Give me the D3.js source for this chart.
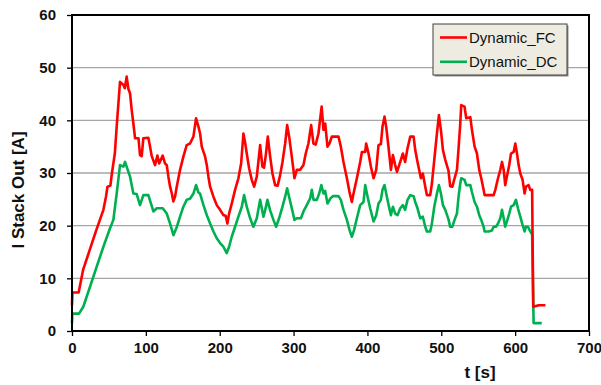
<!DOCTYPE html>
<html>
<head>
<meta charset="utf-8">
<script src="https://cdn.jsdelivr.net/npm/d3@7"></script>
<style>
html,body{margin:0;padding:0;background:#fff;}
svg{display:block;}
</style>
</head>
<body>
<svg id="chart" width="601" height="385"></svg>
<script>
// ---- data ----
const seriesNames = ["Dynamic_FC", "Dynamic_DC"];
const xTicks = [0, 100, 200, 300, 400, 500, 600, 700];
const yTicks = [0, 10, 20, 30, 40, 50, 60];

const tFC = [0,0.5,9,15,24,33,42.5,46,48,52,54,58,60.5,65,69.6,71.5,74,76.3,78.6,80.8,83.1,85.4,90,92.1,94.4,96.6,103.4,105.7,108,112.4,115.6,118,122.8,126,128.3,130.5,132.8,135,137.3,139.5,141.8,146.3,150.8,155.3,159.8,164.4,168,171.2,173.4,175.7,180.2,182.5,184.7,187,191.5,196,200.5,205,208,210.4,212.7,216.3,220.8,225.3,229,232.1,234.4,236.6,239.8,243.4,246.6,250.2,254.7,257.8,260,262.4,265.1,268.3,271.4,275,278.5,281.8,285,288.6,291.3,294,297.6,301.2,304.4,308.9,313.4,316.5,320.1,323.8,326.9,330,333.7,338,340.5,342.8,345.9,348.6,351.8,360.8,364,367.6,372.2,375.7,378.9,381.2,385.7,390.2,392.5,397,398.3,401.5,404.7,408.3,411.9,415,418.2,420.4,423.1,425.4,428.7,431.8,434.5,437.6,440,444.4,448,451,454.3,458,462.5,464.7,467.8,470,472.4,475,478.3,480.5,485,487.3,490.5,494.1,496.8,499.5,502.2,505.4,509.8,512,515,518,521.2,523.4,525.7,527,531.5,533.8,539.3,541.5,545.1,548.3,551.4,554.1,557.3,558.6,570.9,573.1,576.8,579.9,582.2,584.5,586.6,588.9,592,594.4,598,600.2,602.5,604.7,607,610.1,612.8,614.6,618.2,620.5,623,624.5,632,641];
const vFC = [4.9,7.3,7.3,11.6,15.4,19.2,23,25.5,27.4,27.6,29.9,33.7,38.8,47.3,46.7,46.1,48.3,46,45.1,42,39.4,36.6,36.6,33.4,33.2,36.6,36.7,35,33.2,31.5,33.3,31.8,33.3,31.8,31.5,29.3,27.4,26.2,24.6,25.5,27.4,30.6,33.1,35.3,35.6,36.9,40.4,38.8,37.5,35,33.1,31.5,29.3,27.4,25.5,23.9,23,22,21.9,20.4,22.3,24.2,26.8,29,31.8,37.5,35.8,33.7,30.9,28.7,27.4,29.3,35.3,31.2,31,33.4,36.9,33.1,29.9,27.7,27.6,29.6,32.1,35.6,39.1,36.9,33.1,29,30.6,30.6,31.5,33.7,35.6,39.1,35.6,35.4,37.5,42.6,38.2,39.4,35,35.6,36.9,36.9,35,32.1,29,26.4,24.5,26.1,29,32.1,34,34,35.6,33.7,31.2,29,30.6,35.3,35.5,38.8,40.7,38.8,34.7,30.6,33.4,31.5,30.2,32.1,33.7,32.1,34.7,36.9,36.9,34.4,32.1,30.6,29,29.9,27.4,25.8,25.8,28,32.5,37.5,41,38.2,34.4,32.5,30.4,27.5,27.4,29,30.6,34.7,39.4,42.9,42.6,40.4,40.6,38.2,35,33.7,30.6,29,26.8,25.8,25.8,26.8,29,30.6,32.1,30.6,27.7,29.4,31.5,33.7,34,35.6,33.7,31.5,29.9,28.7,26.1,27.4,27.7,26.8,26.8,4.6,4.9,4.9];

const tDC = [0,0.5,9.5,15.3,24.4,33.4,42.5,51.5,56,60.5,65,69.6,71.8,74,78.6,83.1,87.6,92.1,96.6,103.4,110.2,114.7,122.8,128.3,132.8,137.3,141.8,146.3,150.8,155.3,159.8,164.4,168,171.2,173.4,178,182.5,187,191.5,196,200.5,205,209.5,212.7,216.3,220.8,225.3,229.9,233,236.6,241.2,245.6,250.2,254.7,259.2,261.5,264.6,268.3,272.7,276.4,280.4,285,288.6,291.3,294.4,297.6,301.2,304.4,310,313.4,317.9,322.5,324.7,327,331.5,334.7,337.6,340.5,342.8,345.9,349.5,353.2,360.8,364,367.6,372.2,375.7,378.9,382,385.7,390.2,394.7,397,400.2,403.7,408.3,411.9,415,418.2,420.4,423.1,425.4,428.7,431.8,434.5,437.6,440.8,444.4,448,451,454.3,458,462.5,464.7,467.8,471.5,475,478.3,480.5,485,487.3,490.5,494.1,496.8,499.5,502.2,505.4,509.8,512,515,518,521.2,523.4,525.7,527,531.5,533.8,539.3,541.5,545.1,548.3,551.4,554.1,557.3,558.6,564,568.6,570.9,574,576.8,579.9,582.2,584.5,586.6,588.9,592,594.4,598,601.1,603.8,607,610.1,612.8,614.6,617.3,620.5,623,625,636];
const vDC = [1.5,3.3,3.3,4.6,8.4,12.2,16,19.5,21.1,26.1,31.5,31.2,32.1,31.2,29.3,26.1,26,23.9,25.8,25.8,22.7,23.3,23.3,22.3,20.4,18.2,19.7,21.7,23.6,24.9,25.1,26.1,27.7,26.3,26.1,23.9,22,20.4,18.9,17.6,16.7,16,14.8,16,17.9,19.8,21.7,23.6,25.8,23.6,21.4,19.8,21.4,24.9,21.7,22.9,24.9,22.9,21.1,19.8,21.4,23.6,25.5,27.1,25.2,23.3,21.1,21.4,21.4,22.7,23.9,25.2,26.8,24.9,24.9,26.1,27.7,26.1,26.6,24.2,25.1,25.6,25.6,24.9,23,21.1,19.2,17.9,19.2,21.4,23.9,24.5,27.7,25.5,23.3,20.8,22,24.2,24.9,26.8,27.7,26.1,23.9,22,23.6,22.3,22,23.3,23.9,23,24.9,25.8,25.6,24.5,23.3,21.4,21.7,19.8,18.9,18.9,20.4,23.6,26.1,27.7,26.1,23.9,23,21.2,19.8,19.8,21.1,22.3,25.5,28,29,28.7,27.7,27.7,26.4,24.5,23.6,22,21.1,19.8,18.9,18.9,19.1,19.8,19.8,20.4,21.4,23,21.4,19.8,20.8,22.3,23.6,23.9,24.9,23.3,21.7,20.1,18.9,19.8,19.8,18.9,18.3,1.5,1.5];

// ---- layout ----
const svg = d3.select("#chart");
const m = {left: 72, top: 15, right: 12, bottom: 54};
const W = 601 - m.left - m.right, H = 385 - m.top - m.bottom;
const x = d3.scaleLinear().domain([0, 700]).range([0, W]);
const y = d3.scaleLinear().domain([0, 60]).range([H, 0]);
const g = svg.append("g").attr("transform", `translate(${m.left},${m.top})`);
const tickFont = "'Liberation Sans', Arial, sans-serif";

// gridlines
g.append("g").selectAll("line").data(yTicks.filter(d => d > 0 && d < 60)).join("line")
  .attr("x1", 0).attr("x2", W).attr("y1", d => y(d)).attr("y2", d => y(d))
  .attr("stroke", "#a6a6a6").attr("stroke-width", 1.3);

// axes
const xAxis = g.append("g").attr("transform", `translate(0,${H})`)
  .call(d3.axisBottom(x).tickValues(xTicks).tickSize(5).tickPadding(6).tickFormat(d3.format("d")));
const yAxis = g.append("g")
  .call(d3.axisLeft(y).tickValues(yTicks).tickSize(5).tickPadding(11).tickFormat(d3.format("d")));
[xAxis, yAxis].forEach(a => {
  a.select(".domain").remove();
  a.selectAll(".tick line").attr("stroke", "#000").attr("stroke-width", 1.3);
  a.selectAll("text").attr("font-family", tickFont).attr("font-size", 15)
    .attr("font-weight", "bold").attr("fill", "#111");
});

// series lines
const lineGen = d3.line().x(d => x(d[0])).y(d => y(d[1]));
const fcData = tFC.map((t, i) => [t, vFC[i]]);
const dcData = tDC.map((t, i) => [t, vDC[i]]);
g.append("path").datum(dcData).attr("d", lineGen).attr("fill", "none")
  .attr("stroke", "#00b050").attr("stroke-width", 2.6).attr("stroke-linejoin", "round");
g.append("path").datum(fcData).attr("d", lineGen).attr("fill", "none")
  .attr("stroke", "#ff0000").attr("stroke-width", 2.6).attr("stroke-linejoin", "round");

// frame
g.append("rect").attr("x", 0).attr("y", 0).attr("width", W).attr("height", H)
  .attr("fill", "none").attr("stroke", "#000").attr("stroke-width", 2);

// axis titles
svg.append("text").attr("x", 480).attr("y", 378).attr("text-anchor", "middle")
  .attr("font-family", tickFont).attr("font-size", 17).attr("font-weight", "bold")
  .attr("fill", "#111").text("t [s]");
svg.append("text").attr("transform", "translate(24,190) rotate(-90)").attr("text-anchor", "middle")
  .attr("font-family", tickFont).attr("font-size", 17).attr("font-weight", "bold")
  .attr("fill", "#111").text("I Stack Out [A]");

// legend
const lg = svg.append("g").attr("transform", "translate(433,24)");
lg.append("rect").attr("x", 1.5).attr("y", 1.5).attr("width", 134).attr("height", 51).attr("fill", "#8c8c8c");
lg.append("rect").attr("width", 134).attr("height", 51).attr("fill", "#eeece1")
  .attr("stroke", "#404040").attr("stroke-width", 1);
const colors = ["#ff0000", "#00b050"];
seriesNames.forEach((name, i) => {
  const yy = 13.5 + i * 24.3;
  lg.append("line").attr("x1", 7).attr("x2", 34).attr("y1", yy).attr("y2", yy)
    .attr("stroke", colors[i]).attr("stroke-width", 2.6);
  lg.append("text").attr("x", 36).attr("y", yy + 5.3)
    .attr("font-family", tickFont).attr("font-size", 15).attr("fill", "#111").text(name);
});
</script>
</body>
</html>
